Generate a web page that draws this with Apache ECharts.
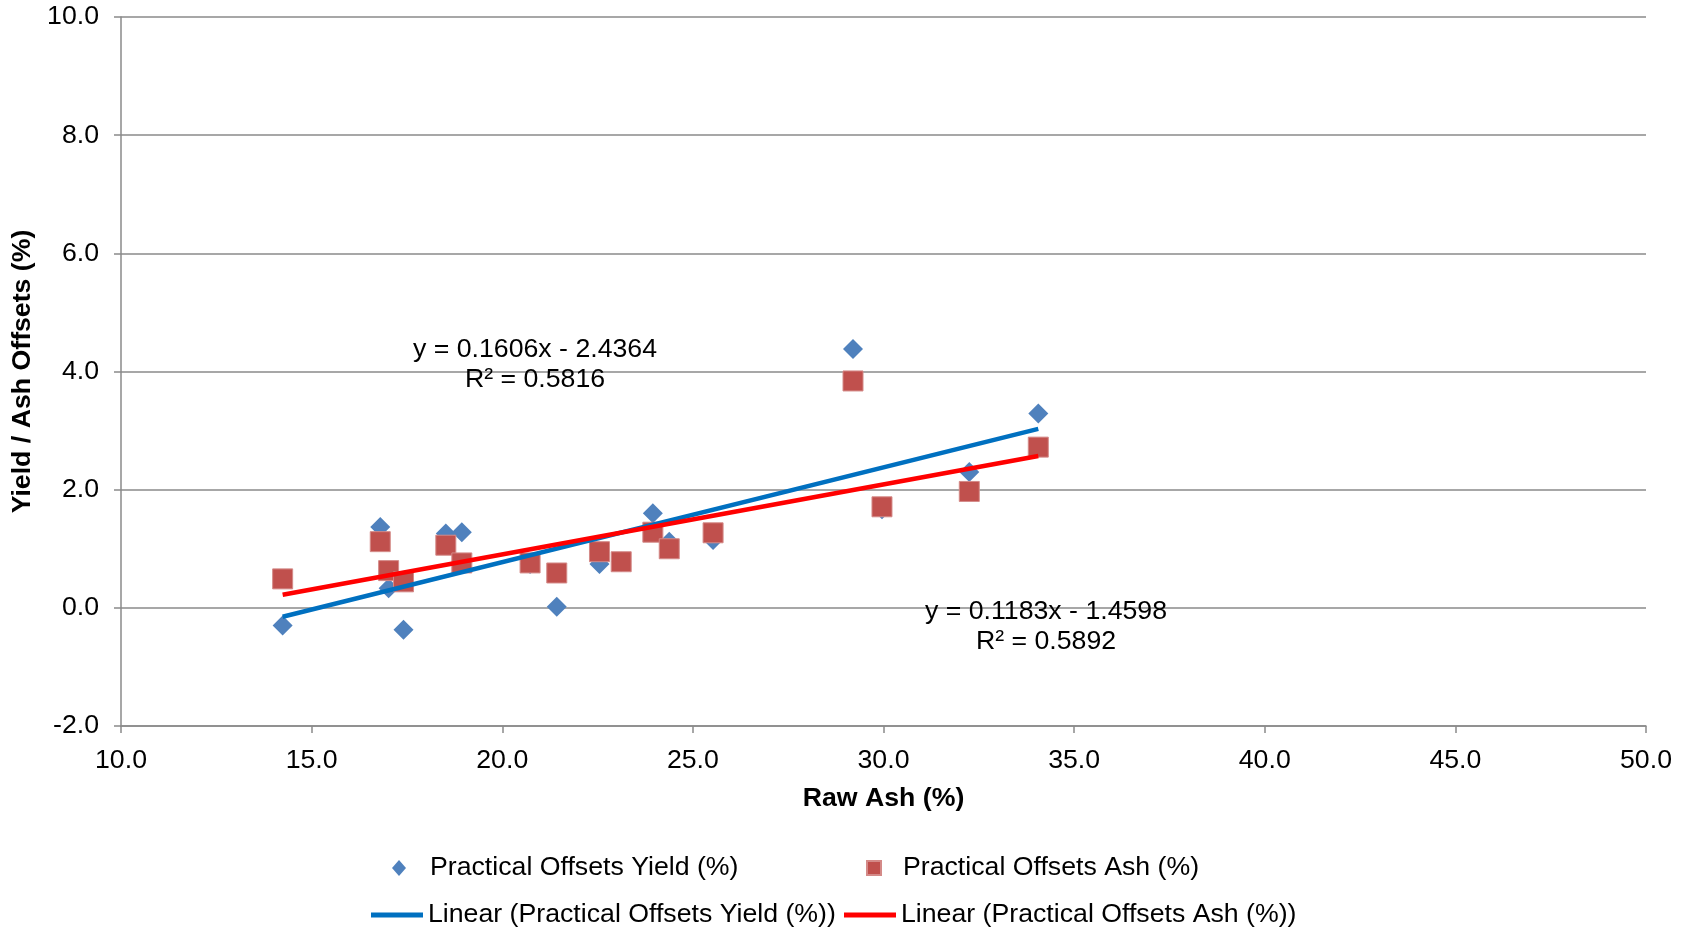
<!DOCTYPE html>
<html>
<head>
<meta charset="utf-8">
<title>Practical Offsets vs Raw Ash</title>
<script src="https://cdn.jsdelivr.net/npm/echarts@6/dist/echarts.min.js"></script>
<style>
    html, body { margin: 0; padding: 0; background: #fff; }
    #main { width: 1690px; height: 928px; }
</style>
</head>
<body>
<div id="main"></div>
<script>
// raw ash (%) of each sample, shared by both series
var rawAsh = [14.24, 16.80, 17.02, 17.41, 18.52, 18.94, 20.73, 21.43, 22.55, 23.12, 23.95, 24.38, 25.53, 29.20, 29.96, 32.25, 34.06];
var yieldOffsets = [-0.30, 1.37, 0.33, -0.37, 1.26, 1.28, 0.74, 0.02, 0.74, 0.78, 1.60, 1.12, 1.15, 4.38, 1.67, 2.30, 3.29];
var ashOffsets = [0.49, 1.12, 0.63, 0.44, 1.06, 0.76, 0.76, 0.59, 0.95, 0.78, 1.28, 1.00, 1.27, 3.84, 1.71, 1.97, 2.72];

// trendline end points (Excel linear fits)
var yieldTrend = [[14.24, -0.15], [34.06, 3.03]];
var ashTrend = [[14.24, 0.22], [34.06, 2.57]];

var yieldEq = ['y = 0.1606x - 2.4364', 'R² = 0.5816'];
var ashEq = ['y = 0.1183x - 1.4598', 'R² = 0.5892'];

var seriesNames = [
    'Practical Offsets Yield (%)',
    'Practical Offsets Ash (%)',
    'Linear (Practical Offsets Yield (%))',
    'Linear (Practical Offsets Ash (%))'
];

function pairs(xs, ys) {
    var out = [];
    for (var i = 0; i < xs.length; i++) {
        out.push([xs[i], ys[i]]);
    }
    return out;
}

var FONT = "'Liberation Sans', Arial, sans-serif";
var FS = 26.7;
var GRAY = '#8a8a8a';

var myChart = echarts.init(document.getElementById('main'));

// one legend per entry so each can sit where Excel put it
function legendItem(name, left, top, opts) {
    return {
        data: [{ name: name, icon: opts.icon }],
        left: left,
        top: top,
        orient: 'horizontal',
        selectedMode: false,
        itemWidth: opts.w,
        itemHeight: opts.h,
        textStyle: {
            fontFamily: FONT,
            fontSize: FS,
            color: '#000',
            lineHeight: 28,
            padding: [0, 0, 0, opts.pad || 0]
        }
    };
}

function eqText(text, x, y) {
    return {
        type: 'text', x: x, y: y, z: 10,
        style: { text: text, font: FS + 'px ' + FONT, fill: '#000', align: 'center', verticalAlign: 'middle' }
    };
}

var option = {
    animation: false,
    backgroundColor: '#fff',
    grid: {
        left: 121,
        right: 44,
        top: 17,
        bottom: 202
    },
    xAxis: {
        type: 'value',
        min: 10,
        max: 50,
        interval: 5,
        name: 'Raw Ash (%)',
        nameLocation: 'middle',
        nameGap: 59,
        nameTextStyle: { fontFamily: FONT, fontSize: FS, fontWeight: 'bold', color: '#000' },
        axisLine: { show: true, onZero: false, lineStyle: { color: GRAY, width: 1.5 } },
        axisTick: { show: true, length: 7, lineStyle: { color: GRAY, width: 1.5 } },
        axisLabel: {
            fontFamily: FONT, fontSize: FS, color: '#000', margin: 21,
            formatter: function (v) { return v.toFixed(1); }
        },
        splitLine: { show: false }
    },
    yAxis: {
        type: 'value',
        min: -2,
        max: 10,
        interval: 2,
        name: 'Yield / Ash Offsets (%)',
        nameLocation: 'middle',
        nameRotate: 90,
        nameGap: 80,
        nameTextStyle: { fontFamily: FONT, fontSize: FS, fontWeight: 'bold', color: '#000' },
        axisLine: { show: true, onZero: false, lineStyle: { color: GRAY, width: 1.5 } },
        axisTick: { show: true, length: 7, lineStyle: { color: GRAY, width: 1.5 } },
        axisLabel: {
            fontFamily: FONT, fontSize: FS, color: '#000', margin: 22,
            formatter: function (v) { return v.toFixed(1); }
        },
        splitLine: { show: true, lineStyle: { color: GRAY, width: 1.5 } }
    },
    legend: [
        legendItem(seriesNames[0], 387, 849, { icon: 'diamond', w: 14, h: 16, pad: 19 }),
        legendItem(seriesNames[1], 861, 849, { icon: 'rect', w: 14, h: 14, pad: 17 }),
        legendItem(seriesNames[2], 366, 896, { icon: 'rect', w: 52, h: 5 }),
        legendItem(seriesNames[3], 839, 896, { icon: 'rect', w: 52, h: 5 })
    ],
    series: [
        {
            name: seriesNames[0],
            type: 'scatter',
            symbol: 'diamond',
            symbolSize: 20,
            itemStyle: { color: '#4F81BD', opacity: 1 },
            data: pairs(rawAsh, yieldOffsets),
            z: 2
        },
        {
            name: seriesNames[1],
            type: 'scatter',
            symbol: 'rect',
            symbolSize: 20,
            itemStyle: { color: '#C0504D', borderColor: '#d48a88', borderWidth: 1, opacity: 1 },
            data: pairs(rawAsh, ashOffsets),
            z: 3
        },
        {
            name: seriesNames[2],
            type: 'line',
            symbol: 'none',
            lineStyle: { color: '#0070C0', width: 4.5 },
            itemStyle: { color: '#0070C0' },
            data: yieldTrend,
            z: 4
        },
        {
            name: seriesNames[3],
            type: 'line',
            symbol: 'none',
            lineStyle: { color: '#FF0000', width: 4.5 },
            itemStyle: { color: '#FF0000' },
            data: ashTrend,
            z: 5
        }
    ],
    graphic: [
        eqText(yieldEq[0], 535, 350),
        eqText(yieldEq[1], 535, 380),
        eqText(ashEq[0], 1046, 612),
        eqText(ashEq[1], 1046, 642)
    ]
};

if (option && typeof option === 'object') {
    myChart.setOption(option, true);
}
</script>
</body>
</html>
